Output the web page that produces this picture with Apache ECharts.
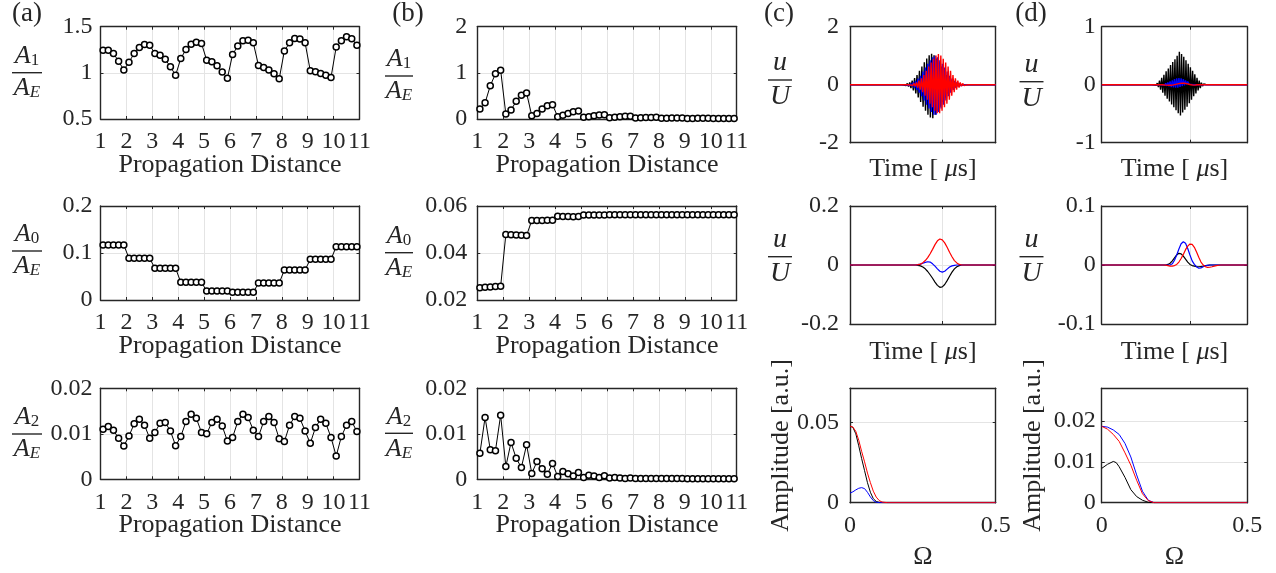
<!DOCTYPE html>
<html>
<head>
<meta charset="utf-8">
<script src="https://cdn.jsdelivr.net/npm/echarts@6/dist/echarts.min.js"></script>
<style>
  html, body { margin: 0; padding: 0; background: #ffffff; }
  #main { width: 1276px; height: 573px; }
</style>
</head>
<body>
<div id="main"></div>
<script>
// ---------- data ----------
// propagation distance of each sample (five samples per unit cell)
const distance = [1.1,1.3,1.5,1.7,1.9, 2.1,2.3,2.5,2.7,2.9, 3.1,3.3,3.5,3.7,3.9, 4.1,4.3,4.5,4.7,4.9,
  5.1,5.3,5.5,5.7,5.9, 6.1,6.3,6.5,6.7,6.9, 7.1,7.3,7.5,7.7,7.9, 8.1,8.3,8.5,8.7,8.9,
  9.1,9.3,9.5,9.7,9.9, 10.1,10.3,10.5,10.7,10.9];

// (a) harmonic amplitude ratios
const aA1 = [1.245,1.245,1.21,1.126,1.03, 1.116,1.21,1.274,1.307,1.30, 1.21,1.19,1.148,1.065,0.975,
  1.155,1.253,1.31,1.332,1.318, 1.137,1.12,1.076,1.01,0.942, 1.20,1.29,1.347,1.354,1.325,
  1.08,1.058,1.03,0.99,0.935, 1.238,1.325,1.372,1.368,1.325, 1.022,1.011,0.993,0.975,0.95,
  1.28,1.347,1.39,1.37,1.30];
const aA0 = [0.117,0.117,0.117,0.117,0.117, 0.0887,0.0887,0.0887,0.0887,0.0887, 0.0674,0.0674,0.0674,0.0674,0.0674,
  0.0376,0.0376,0.0376,0.0376,0.0376, 0.019,0.019,0.019,0.019,0.019, 0.0165,0.0165,0.0165,0.0165,0.0165,
  0.036,0.036,0.036,0.036,0.036, 0.064,0.064,0.064,0.064,0.064, 0.0865,0.0865,0.0865,0.0865,0.0865,
  0.1135,0.1135,0.1135,0.1135,0.1135];
const aA2 = [0.011,0.0116,0.0108,0.009,0.0073, 0.0095,0.0122,0.0132,0.0119,0.009, 0.0103,0.0123,0.0125,0.0106,0.0074,
  0.0094,0.0127,0.0143,0.0134,0.0103, 0.01,0.0125,0.0132,0.0117,0.0084, 0.0092,0.0127,0.0143,0.0136,0.0108,
  0.0094,0.0127,0.0138,0.0125,0.0089, 0.0083,0.0119,0.0138,0.0134,0.0106, 0.0079,0.0114,0.0132,0.0123,0.0092,
  0.0051,0.0094,0.0119,0.0127,0.0105];

// (b) harmonic amplitude ratios
const bA1 = [0.214,0.35,0.72,0.98,1.057, 0.107,0.193,0.386,0.514,0.564, 0.071,0.121,0.214,0.286,0.307,
  0.05,0.079,0.121,0.157,0.171, 0.036,0.05,0.071,0.086,0.093, 0.029,0.036,0.05,0.057,0.057,
  0.022,0.025,0.03,0.035,0.036, 0.015,0.018,0.02,0.022,0.024, 0.012,0.013,0.014,0.015,0.015,
  0.01,0.011,0.012,0.012,0.012];
const bA0 = [0.0252,0.0254,0.0255,0.0257,0.0258, 0.0479,0.0478,0.0477,0.0476,0.0475, 0.0538,0.0538,0.0538,0.0539,0.0539,
  0.0556,0.0555,0.0555,0.0554,0.0555, 0.0562,0.0562,0.0562,0.0562,0.0562, 0.0563,0.0563,0.0563,0.0563,0.0563,
  0.0563,0.0563,0.0563,0.0563,0.0563, 0.0563,0.0563,0.0563,0.0563,0.0563, 0.0563,0.0563,0.0563,0.0563,0.0563,
  0.0563,0.0563,0.0563,0.0563,0.0563];
const bA2 = [0.0057,0.0136,0.0065,0.0063,0.0141, 0.0028,0.0081,0.0046,0.0026,0.0076, 0.0013,0.0039,0.0023,0.0011,0.0035,
  0.0006,0.0017,0.0012,0.0007,0.0015, 0.0004,0.0009,0.0007,0.0004,0.0008, 0.0003,0.0004,0.0003,0.0002,0.0003,
  0.0002,0.0002,0.0002,0.0002,0.0002, 0.0002,0.0002,0.0002,0.0002,0.0002, 0.0001,0.0001,0.0001,0.0001,0.0001,
  0.0001,0.0001,0.0001,0.0001,0.0001];

// (c) time signals: tone-burst peaks, one value per half cycle
const cTimeMax = 60, cTimeTick = 38, cHalfPeriod = 0.5;
const cBlackStart = 21.6;
const cBlackBurst = [0.006,-0.013,0.019,-0.032,0.043,-0.063,0.08,-0.115,0.139,-0.196,0.225,-0.3,0.332,-0.437,0.482,-0.598,
  0.631,-0.759,0.77,-0.897,0.899,-1.035,1.017,-1.133,1.07,-1.16,1.017,-1.035,0.899,-0.897,0.77,-0.759,
  0.631,-0.598,0.482,-0.437,0.332,-0.3,0.225,-0.196,0.139,-0.115,0.08,-0.063,0.043,-0.032,0.019,-0.013,0.006];
const cBlueStart = 23.0;
const cBlueBurst = [0.006,-0.012,0.018,-0.029,0.04,-0.058,0.075,-0.105,0.13,-0.179,0.21,-0.273,0.31,-0.399,0.45,-0.546,
  0.59,-0.693,0.72,-0.819,0.84,-0.945,0.95,-1.034,1.0,-1.034,0.95,-0.945,0.84,-0.819,0.72,-0.693,
  0.59,-0.546,0.45,-0.399,0.31,-0.273,0.21,-0.179,0.13,-0.105,0.075,-0.058,0.04,-0.029,0.018,-0.012,0.006];
const cRedStart = 24.4;
const cRedBurst = [0.006,-0.011,0.019,-0.028,0.042,-0.055,0.08,-0.1,0.138,-0.17,0.223,-0.26,0.329,-0.38,0.477,-0.52,
  0.625,-0.66,0.763,-0.78,0.89,-0.9,1.007,-0.985,1.06,-0.985,1.007,-0.9,0.89,-0.78,0.763,-0.66,
  0.625,-0.52,0.477,-0.38,0.329,-0.26,0.223,-0.17,0.138,-0.1,0.08,-0.055,0.042,-0.028,0.019,-0.011,0.006];

// (c) low-frequency part of the signal
const cMidTime  = [0, 27,28,29,30,31,32,33,34,35,36,37,38,39,40,41,42,43,44,45,46, 60];
const cMidBlack = [0, 0,-0.001,-0.003,-0.007,-0.013,-0.022,-0.033,-0.045,-0.058,-0.069,-0.0756,-0.074,-0.066,-0.053,-0.038,-0.024,-0.013,-0.006,-0.002,0, 0];
const cMidBlue  = [0, 0,0.001,0.003,0.006,0.009,0.011,0.01,0.004,-0.004,-0.013,-0.021,-0.024,-0.021,-0.014,-0.007,-0.003,-0.001,0,0,0, 0];
const cMidRed   = [0, 0,0.001,0.003,0.008,0.015,0.025,0.038,0.053,0.069,0.082,0.088,0.085,0.075,0.06,0.043,0.028,0.015,0.007,0.002,0, 0];

// (c) spectra
const cOmegaBlack = [0,0.01,0.02,0.03,0.04,0.05,0.06,0.07,0.08,0.09,0.1,0.12,0.5];
const cSpecBlack  = [0.0478,0.047,0.043,0.0355,0.0275,0.02,0.0125,0.0065,0.0025,0.0008,0.0002,0,0];
const cOmegaBlue  = [0,0.01,0.02,0.03,0.04,0.05,0.06,0.07,0.08,0.09,0.1,0.5];
const cSpecBlue   = [0.006,0.0068,0.008,0.009,0.0094,0.0088,0.0065,0.0036,0.0013,0.0003,0,0];
const cOmegaRed   = [0,0.01,0.02,0.03,0.04,0.05,0.06,0.07,0.08,0.09,0.1,0.11,0.13,0.5];
const cSpecRed    = [0.0478,0.0472,0.0445,0.039,0.032,0.0255,0.0185,0.0125,0.0072,0.0035,0.0014,0.0004,0,0];

// (d) time signals
const dTimeMax = 66, dTimeTick = 40, dHalfPeriod = 0.5;
const dBlackStart = 23.2;
const dBlackBurst = [0.004,-0.005,0.01,-0.012,0.027,-0.04,0.07,-0.085,0.12,-0.14,0.17,-0.19,0.23,-0.24,0.28,-0.29,
  0.34,-0.34,0.39,-0.39,0.44,-0.44,0.5,-0.49,0.57,-0.53,0.53,-0.48,0.48,-0.43,0.42,-0.38,
  0.36,-0.32,0.3,-0.26,0.24,-0.2,0.18,-0.15,0.12,-0.1,0.07,-0.06,0.035,-0.025,0.012,-0.008,0.004];
const dBlueStart = 26.0;
const dBlueBurst = [0.003,-0.003,0.008,-0.006,0.015,-0.012,0.026,-0.02,0.04,-0.03,0.055,-0.04,0.075,-0.048,0.095,-0.052,
  0.11,-0.05,0.115,-0.04,0.11,-0.025,0.095,-0.01,0.075,0.005,0.055,0.01,0.035,0.005,0.015];
const dRedStart = 28.0;
const dRedBurst = [0.004,-0.005,0.006,-0.008,0.008,-0.01,0.012,-0.01,0.018,-0.004,0.026,0.006,0.034,0.014,0.042,0.022,
  0.046,0.026,0.045,0.026,0.04,0.018,0.03,0.008,0.018,-0.002,0.006,-0.008,0,-0.006,0];

const dMidTime  = [0, 28,29,30,31,32,33,34,35,36,37,38,39,40,41,42,43,44,45,46,47,48,49,50,51,52,53,54, 66];
const dMidBlack = [0, 0,0,0.001,0.003,0.007,0.012,0.017,0.0198,0.019,0.015,0.01,0.005,0.001,-0.001,-0.002,-0.003,-0.003,-0.0025,-0.002,-0.001,-0.0005,0,0,0,0,0,0, 0];
const dMidBlue  = [0, 0,0,0,0,0.002,0.008,0.017,0.027,0.036,0.0395,0.037,0.028,0.017,0.007,0.001,-0.003,-0.0055,-0.005,-0.003,-0.0015,-0.0005,0,0,0,0,0,0, 0];
const dMidRed   = [0, 0,-0.0003,-0.001,-0.002,-0.002,-0.001,0.001,0.005,0.011,0.018,0.026,0.032,0.0355,0.035,0.03,0.022,0.013,0.005,0,-0.003,-0.004,-0.0038,-0.003,-0.002,-0.001,-0.0004,0, 0];

// (d) spectra
const dOmega     = [0,0.02,0.04,0.06,0.08,0.1,0.12,0.14,0.16,0.18,0.5];
const dSpecBlue  = [0.0187,0.0185,0.0178,0.0167,0.0145,0.0112,0.0068,0.0028,0.0006,0,0];
const dSpecRed   = [0.0187,0.018,0.0167,0.015,0.0122,0.0092,0.0055,0.0022,0.0005,0,0];
const dOmegaBlack = [0,0.02,0.04,0.05,0.06,0.08,0.1,0.12,0.14,0.16,0.18,0.5];
const dSpecBlack  = [0.0084,0.0094,0.0101,0.0098,0.0088,0.0062,0.0032,0.0015,0.0006,0.0001,0,0];

// ---------- styling ----------
const FONT = '"Liberation Serif", "Times New Roman", serif';
const INK = '#262626';
const GRIDLINE = '#e4e4e4';
const TICK_FS = 24, LABEL_FS = 26, FRAC_FS = 26, SUB_FS = 17;

const grids = [], xAxes = [], yAxes = [], series = [], graphics = [];

function pairs(xs, ys) { return xs.map((x, i) => [x, ys[i]]); }
function burst(start, h, peaks, tmax) {
  const pts = [[0, 0], [start - h, 0]];
  peaks.forEach((v, i) => pts.push([start + i * h, v]));
  pts.push([start + peaks.length * h, 0], [tmax, 0]);
  return pts;
}
function onTick(v, step) { return Math.abs(v / step - Math.round(v / step)) < 1e-6; }

function addPanel(box, xa, ya) {
  const gi = grids.length;
  grids.push({ left: box[0], top: box[1], width: box[2], height: box[3], show: false });
  const lineStyle = { color: INK, width: 1.4 };
  const tick = { show: true, inside: true, length: 3, lineStyle: { color: INK, width: 1 } };
  const xi = xAxes.length;
  xAxes.push({
    gridIndex: gi, type: 'value', position: 'bottom', min: xa.min, max: xa.max, interval: xa.interval,
    axisLine: { show: true, onZero: false, lineStyle }, axisTick: tick,
    splitLine: { show: xa.split !== false, lineStyle: { color: GRIDLINE, width: 1 } },
    axisLabel: xa.labels ? {
      show: true, margin: xa.margin || 11, fontFamily: FONT, fontSize: TICK_FS, color: INK,
      formatter: v => onTick(v, xa.interval) ? String(+v.toFixed(4)) : ''
    } : { show: false },
    name: xa.name || '', nameLocation: 'middle', nameGap: xa.nameGap || 46, nameMoveOverlap: false,
    nameTextStyle: { fontFamily: FONT, fontSize: LABEL_FS, color: INK, verticalAlign: 'middle',
      rich: { it: { fontFamily: FONT, fontSize: LABEL_FS, fontStyle: 'italic', color: INK } } }
  });
  xAxes.push({
    gridIndex: gi, type: 'value', position: 'top', min: xa.min, max: xa.max, interval: xa.interval,
    axisLine: { show: true, onZero: false, lineStyle }, axisTick: tick,
    splitLine: { show: false }, axisLabel: { show: false }
  });
  const yi = yAxes.length;
  yAxes.push({
    gridIndex: gi, type: 'value', position: 'left', min: ya.min, max: ya.max, interval: ya.interval,
    axisLine: { show: true, onZero: false, lineStyle }, axisTick: tick,
    splitLine: { show: ya.split !== false, lineStyle: { color: GRIDLINE, width: 1 } },
    axisLabel: {
      show: true, margin: ya.margin, fontFamily: FONT, fontSize: TICK_FS, color: INK,
      formatter: v => onTick(v, ya.interval) ? String(+v.toFixed(4)) : ''
    },
    name: ya.name || '', nameLocation: 'middle', nameRotate: 90, nameGap: ya.nameGap || 60, nameMoveOverlap: false,
    nameTextStyle: { fontFamily: FONT, fontSize: LABEL_FS, color: INK, verticalAlign: 'middle' }
  });
  yAxes.push({
    gridIndex: gi, type: 'value', position: 'right', min: ya.min, max: ya.max, interval: ya.interval,
    axisLine: { show: true, onZero: false, lineStyle }, axisTick: tick,
    splitLine: { show: false }, axisLabel: { show: false }
  });
  return { x: xi, y: yi };
}

function markerSeries(ax, ys) {
  series.push({
    type: 'line', xAxisIndex: ax.x, yAxisIndex: ax.y, data: pairs(distance, ys),
    symbol: 'circle', symbolSize: 6, showSymbol: true,
    itemStyle: { color: '#ffffff', borderColor: '#000000', borderWidth: 1.5 },
    lineStyle: { color: '#000000', width: 1 }, emphasis: { disabled: true }
  });
}
function curve(ax, data, color, width) {
  series.push({
    type: 'line', xAxisIndex: ax.x, yAxisIndex: ax.y, data, showSymbol: false, symbol: 'none',
    lineStyle: { color, width: width || 1 }, emphasis: { disabled: true }
  });
}

// fraction label (numerator over denominator) drawn as text with a bar
function fraction(cx, lineY, half, num, den, fs) {
  const size = fs || FRAC_FS;
  const rich = {
    v: { fontFamily: FONT, fontSize: size, fontStyle: 'italic', fill: INK, lineHeight: size },
    s: { fontFamily: FONT, fontSize: SUB_FS, fill: INK, verticalAlign: 'bottom', lineHeight: 11 },
    si: { fontFamily: FONT, fontSize: SUB_FS, fontStyle: 'italic', fill: INK, verticalAlign: 'bottom', lineHeight: 11 }
  };
  graphics.push({ type: 'text', x: cx, y: lineY - 3.5, silent: true,
    style: { text: num, rich, align: 'center', verticalAlign: 'bottom', fill: INK } });
  graphics.push({ type: 'line', silent: true, shape: { x1: cx - half, y1: lineY, x2: cx + half, y2: lineY },
    style: { stroke: INK, lineWidth: 1.4 } });
  graphics.push({ type: 'text', x: cx, y: lineY + 2.5, silent: true,
    style: { text: den, rich, align: 'center', verticalAlign: 'top', fill: INK } });
}
function panelTag(cx, cy, txt) {
  graphics.push({ type: 'text', x: cx, y: cy, silent: true,
    style: { text: txt, fontFamily: FONT, fontSize: 27, fill: INK, align: 'center', verticalAlign: 'middle' } });
}

// ---------- layout ----------
const colA = [100.5, 259], colB = [477.3, 259.4], colC = [850, 145.7], colD = [1101.7, 145.6];
const rowsAB = [[26.7, 92.3], [206, 94], [388.3, 91]];
const rowsCD = [[26.7, 116], [206, 118], [388.3, 114.4]];
const distAxis = { min: 1, max: 11, interval: 1, labels: true, name: 'Propagation Distance', nameGap: 46 };

// (a)
let ax = addPanel([colA[0], rowsAB[0][0], colA[1], rowsAB[0][1]], distAxis, { min: 0.5, max: 1.5, interval: 0.5, margin: 8 });
markerSeries(ax, aA1);
ax = addPanel([colA[0], rowsAB[1][0], colA[1], rowsAB[1][1]], distAxis, { min: 0, max: 0.2, interval: 0.1, margin: 8 });
markerSeries(ax, aA0);
ax = addPanel([colA[0], rowsAB[2][0], colA[1], rowsAB[2][1]], distAxis, { min: 0, max: 0.02, interval: 0.01, margin: 8 });
markerSeries(ax, aA2);

// (b)
ax = addPanel([colB[0], rowsAB[0][0], colB[1], rowsAB[0][1]], distAxis, { min: 0, max: 2, interval: 1, margin: 10 });
markerSeries(ax, bA1);
ax = addPanel([colB[0], rowsAB[1][0], colB[1], rowsAB[1][1]], distAxis, { min: 0.02, max: 0.06, interval: 0.02, margin: 10 });
markerSeries(ax, bA0);
ax = addPanel([colB[0], rowsAB[2][0], colB[1], rowsAB[2][1]], distAxis, { min: 0, max: 0.02, interval: 0.01, margin: 10 });
markerSeries(ax, bA2);

// (c)
const timeName = 'Time [ {it|μ}s]';
ax = addPanel([colC[0], rowsCD[0][0], colC[1], rowsCD[0][1]],
  { min: 0, max: cTimeMax, interval: cTimeTick, labels: false, name: timeName, nameGap: 26 },
  { min: -2, max: 2, interval: 2, margin: 11 });
curve(ax, burst(cBlackStart, cHalfPeriod, cBlackBurst, cTimeMax), '#000000', 1.4);
curve(ax, burst(cBlueStart, cHalfPeriod, cBlueBurst, cTimeMax), '#0000ff', 1.4);
curve(ax, burst(cRedStart, cHalfPeriod, cRedBurst, cTimeMax), '#ff0000', 1.4);
ax = addPanel([colC[0], rowsCD[1][0], colC[1], rowsCD[1][1]],
  { min: 0, max: cTimeMax, interval: cTimeTick, labels: false, name: timeName, nameGap: 28 },
  { min: -0.2, max: 0.2, interval: 0.2, margin: 11 });
curve(ax, pairs(cMidTime, cMidBlack), '#000000', 1.2);
curve(ax, pairs(cMidTime, cMidBlue), '#0000ff', 1.2);
curve(ax, pairs(cMidTime, cMidRed), '#ff0000', 1.2);
ax = addPanel([colC[0], rowsCD[2][0], colC[1], rowsCD[2][1]],
  { min: 0, max: 0.5, interval: 0.5, labels: true, split: false, name: 'Ω', nameGap: 54 },
  { min: 0, max: 0.0714, interval: 0.05, margin: 11, name: 'Amplitude [a.u.]', nameGap: 69 });
curve(ax, pairs(cOmegaBlack, cSpecBlack), '#000000', 1);
curve(ax, pairs(cOmegaBlue, cSpecBlue), '#0000ff', 1);
curve(ax, pairs(cOmegaRed, cSpecRed), '#ff0000', 1);

// (d)
ax = addPanel([colD[0], rowsCD[0][0], colD[1], rowsCD[0][1]],
  { min: 0, max: dTimeMax, interval: dTimeTick, labels: false, name: timeName, nameGap: 26 },
  { min: -1, max: 1, interval: 1, margin: 6 });
curve(ax, burst(dBlackStart, dHalfPeriod, dBlackBurst, dTimeMax), '#000000', 1.4);
curve(ax, burst(dBlueStart, dHalfPeriod, dBlueBurst, dTimeMax), '#0000ff', 1.4);
curve(ax, burst(dRedStart, dHalfPeriod, dRedBurst, dTimeMax), '#ff0000', 1.4);
ax = addPanel([colD[0], rowsCD[1][0], colD[1], rowsCD[1][1]],
  { min: 0, max: dTimeMax, interval: dTimeTick, labels: false, name: timeName, nameGap: 28 },
  { min: -0.1, max: 0.1, interval: 0.1, margin: 6 });
curve(ax, pairs(dMidTime, dMidBlack), '#000000', 1.2);
curve(ax, pairs(dMidTime, dMidBlue), '#0000ff', 1.2);
curve(ax, pairs(dMidTime, dMidRed), '#ff0000', 1.2);
ax = addPanel([colD[0], rowsCD[2][0], colD[1], rowsCD[2][1]],
  { min: 0, max: 0.5, interval: 0.5, labels: true, split: false, name: 'Ω', nameGap: 54 },
  { min: 0, max: 0.028, interval: 0.01, margin: 6, name: 'Amplitude [a.u.]', nameGap: 69 });
curve(ax, pairs(dOmegaBlack, dSpecBlack), '#000000', 1);
curve(ax, pairs(dOmega, dSpecBlue), '#0000ff', 1);
curve(ax, pairs(dOmega, dSpecRed), '#ff0000', 1);

// ---------- labels ----------
panelTag(27, 14, '(a)');
panelTag(408, 14, '(b)');
panelTag(779, 14, '(c)');
panelTag(1031, 14, '(d)');

fraction(27, 72.7, 15, '{v|A}{s|1}', '{v|A}{si|E}');
fraction(27, 251, 15, '{v|A}{s|0}', '{v|A}{si|E}');
fraction(27, 434, 15, '{v|A}{s|2}', '{v|A}{si|E}');
fraction(399, 76, 14, '{v|A}{s|1}', '{v|A}{si|E}');
fraction(399, 252.7, 14, '{v|A}{s|0}', '{v|A}{si|E}');
fraction(399, 433.3, 14, '{v|A}{s|2}', '{v|A}{si|E}');
fraction(780, 80, 12, '{v|u}', '{v|U}', 28);
fraction(780, 256.7, 12, '{v|u}', '{v|U}', 28);
fraction(1031.5, 81.7, 12, '{v|u}', '{v|U}', 28);
fraction(1031.5, 256.7, 12, '{v|u}', '{v|U}', 28);

const chart = echarts.init(document.getElementById('main'), null, { renderer: 'canvas' });
chart.setOption({
  animation: false,
  backgroundColor: '#ffffff',
  grid: grids,
  xAxis: xAxes,
  yAxis: yAxes,
  series,
  graphic: graphics
});
</script>
</body>
</html>
